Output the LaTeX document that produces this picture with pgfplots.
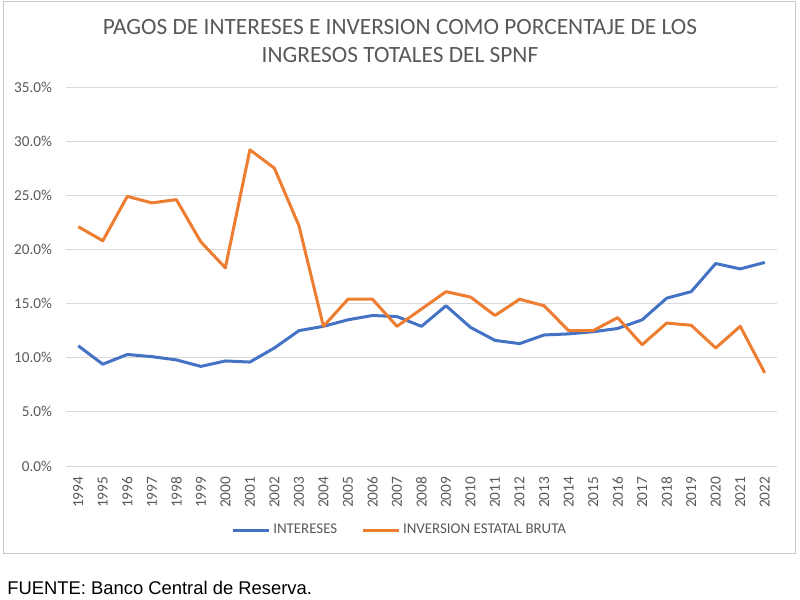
\documentclass[border=0pt]{standalone}
\usepackage{pgfplots}
\pgfplotsset{compat=1.18}
\usepackage{fontspec}
\setmainfont{Carlito}
\newfontfamily\arialfont{Liberation Sans}
\definecolor{cblue}{HTML}{4472C4}
\definecolor{corange}{HTML}{ED7D31}
\definecolor{ctext}{HTML}{595959}
\definecolor{cgrid}{HTML}{D9D9D9}
\definecolor{cframe}{HTML}{C8C8C8}
\pgfplotstableread{
year int inv
1994 11.1 22.1
1995 9.4 20.8
1996 10.3 24.9
1997 10.1 24.3
1998 9.8 24.6
1999 9.2 20.7
2000 9.7 18.3
2001 9.6 29.2
2002 10.9 27.5
2003 12.5 22.2
2004 12.9 12.9
2005 13.5 15.4
2006 13.9 15.4
2007 13.8 12.9
2008 12.9 14.5
2009 14.8 16.1
2010 12.8 15.6
2011 11.6 13.9
2012 11.3 15.4
2013 12.1 14.8
2014 12.2 12.5
2015 12.4 12.5
2016 12.7 13.7
2017 13.5 11.2
2018 15.5 13.2
2019 16.1 13.0
2020 18.7 10.9
2021 18.2 12.9
2022 18.8 8.6
}\datatable
\begin{document}
\begin{tikzpicture}
\path[use as bounding box] (0pt,0pt) rectangle (600pt,-450pt);
\draw[color=cframe, line width=0.75pt] (2.25pt,-0.75pt) rectangle (596.25pt,-414.75pt);
\node[text=ctext, font=\fontsize{17.5}{21}\selectfont, align=center] at (300pt,-30.75pt)
  {PAGOS DE INTERESES E INVERSION COMO PORCENTAJE DE LOS\\INGRESOS TOTALES DEL SPNF};
\node[anchor=west, inner sep=0pt, font=\arialfont\fontsize{13.8}{15}\selectfont] at (5.25pt,-441pt)
  {FUENTE: Banco Central de Reserva.};
\begin{axis}[
  at={(49.5pt,-349.5pt)}, anchor=south west,
  scale only axis, width=533.25pt, height=284.25pt,
  xmin=1993.5, xmax=2022.5, ymin=0, ymax=35,
  axis line style={draw=none},
  ymajorgrids, grid style={cgrid, line width=0.75pt},
  ytick={0,5,10,15,20,25,30,35},
  yticklabels={0.0\%,5.0\%,10.0\%,15.0\%,20.0\%,25.0\%,30.0\%,35.0\%},
  xtick={1994,1995,1996,1997,1998,1999,2000,2001,2002,2003,2004,2005,2006,2007,2008,2009,2010,2011,2012,2013,2014,2015,2016,2017,2018,2019,2020,2021,2022},
  xticklabels={1994,1995,1996,1997,1998,1999,2000,2001,2002,2003,2004,2005,2006,2007,2008,2009,2010,2011,2012,2013,2014,2015,2016,2017,2018,2019,2020,2021,2022},
  xticklabel style={rotate=90, anchor=east, font=\fontsize{11.5}{12}\selectfont, text=ctext},
  xticklabel shift=4.5pt,
  yticklabel style={font=\fontsize{11.4}{12}\selectfont, text=ctext, xshift=-7pt},
  major tick length=0pt,
  tick style={draw=none},
  xtick pos=bottom, ytick pos=left,
  legend columns=2,
  legend style={at={(0.47,-0.169)}, anchor=center, draw=none, fill=none,
    font=\fontsize{11.2}{12}\selectfont, text=ctext,
    /tikz/every even column/.append style={column sep=16pt}},
  legend image code/.code={\draw[#1, line width=2.25pt] (0pt,0pt) -- (27pt,0pt);},
]
\addplot[cblue, line width=2.25pt, line join=round] table[x=year, y=int] {\datatable};
\addlegendentry{INTERESES}
\addplot[corange, line width=2.25pt, line join=round] table[x=year, y=inv] {\datatable};
\addlegendentry{INVERSION ESTATAL BRUTA}
\end{axis}
\end{tikzpicture}
\end{document}
